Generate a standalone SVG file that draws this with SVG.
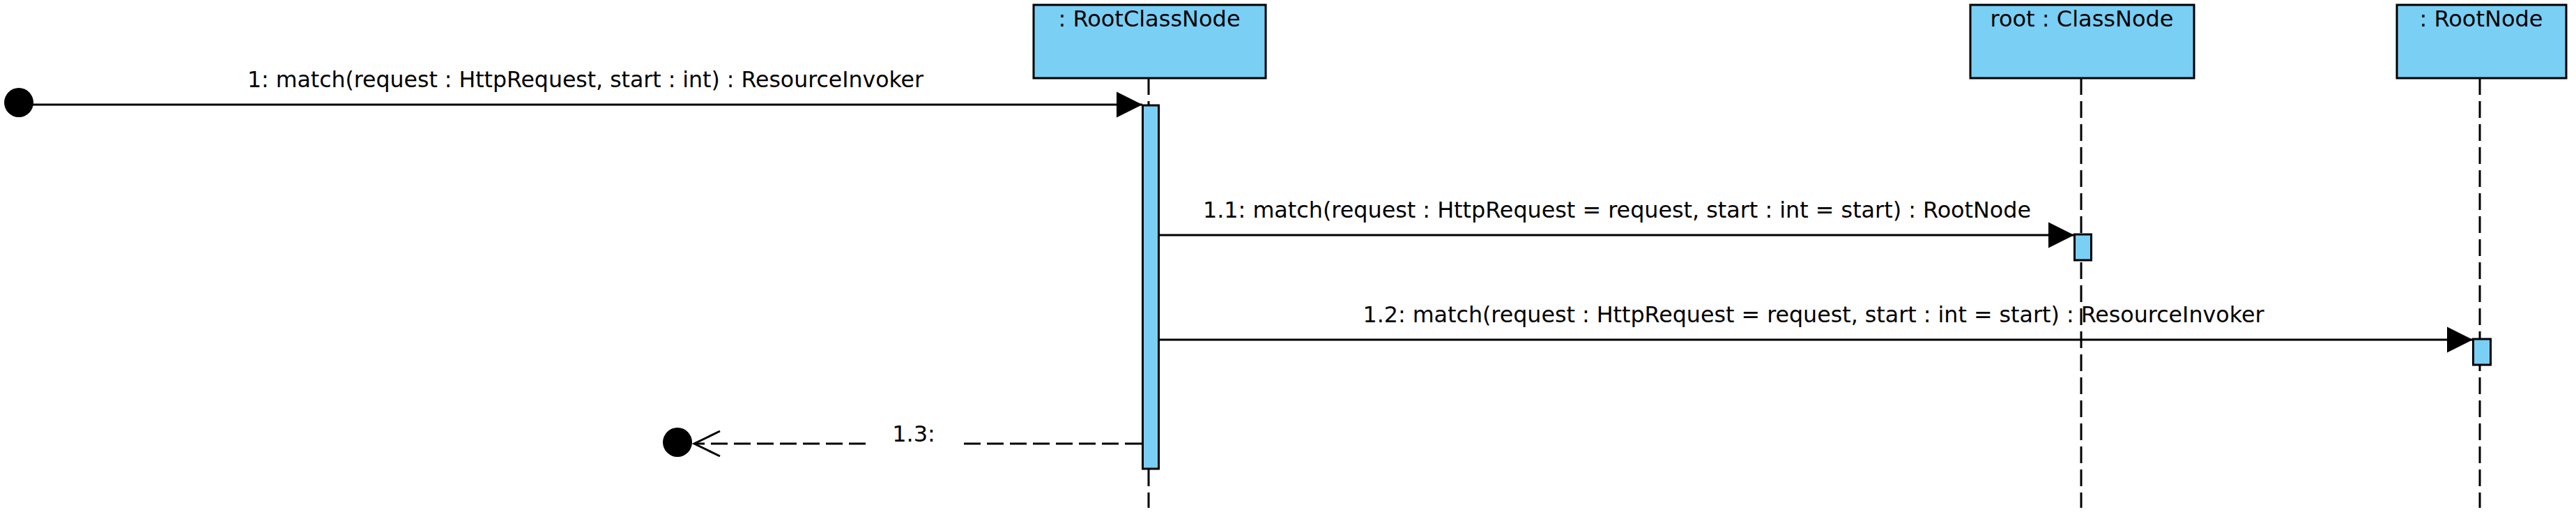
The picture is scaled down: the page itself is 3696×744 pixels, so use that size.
<svg xmlns="http://www.w3.org/2000/svg" width="3696" height="744" viewBox="0 0 3696 744">
<style>
  .box { fill: #7acff5; stroke: #000; stroke-width: 3; }
  .act { fill: #7acff5; stroke: #000; stroke-width: 3; }
  .life { stroke: #000; stroke-width: 3; stroke-dasharray: 24 9; fill: none; }
  .msg { stroke: #000; stroke-width: 3; fill: none; }
  .ret { stroke: #000; stroke-width: 3; fill: none; stroke-dasharray: 24 9; }
  .t { font-family: "DejaVu Sans", "Liberation Sans", sans-serif; font-size: 32px; fill: #000; text-anchor: middle; }
</style>
<defs>
  <marker id="filled" markerUnits="userSpaceOnUse" viewBox="0 0 37 37" refX="37" refY="18.5" markerWidth="37" markerHeight="37" orient="auto" overflow="visible">
    <path d="M0,0 L37,18.5 L0,37 Z" fill="#000"/>
  </marker>
  <marker id="open" markerUnits="userSpaceOnUse" viewBox="0 0 40 40" refX="38" refY="19" markerWidth="40" markerHeight="40" orient="auto" overflow="visible">
    <path d="M1,1 L38,19 L1,37" fill="none" stroke="#000" stroke-width="3"/>
  </marker>
</defs>
<rect width="3696" height="744" fill="#fff"/>

<g id="lifelines">
  <line class="life" x1="1648" y1="112" x2="1648" y2="728"/>
  <line class="life" x1="2986" y1="112" x2="2986" y2="728"/>
  <line class="life" x1="3558" y1="112" x2="3558" y2="728"/>
</g>

<g id="node-rootclassnode">
  <rect class="box" x="1483" y="7" width="333" height="105"/>
  <text class="t" x="1649" y="38">: RootClassNode</text>
  <rect class="act" x="1639.5" y="151" width="23" height="521"/>
</g>

<g id="node-classnode">
  <rect class="box" x="2827" y="7" width="321" height="105"/>
  <text class="t" x="2987" y="38">root : ClassNode</text>
  <rect class="act" x="2976.5" y="336" width="24" height="37"/>
</g>

<g id="node-rootnode">
  <rect class="box" x="3439" y="7" width="243" height="105"/>
  <text class="t" x="3560" y="38">: RootNode</text>
  <rect class="act" x="3548.5" y="486" width="25" height="37"/>
</g>

<g id="start-point">
  <circle cx="27" cy="147" r="21" fill="#000"/>
</g>
<g id="end-point">
  <circle cx="972" cy="634" r="21" fill="#000"/>
</g>

<g id="connectors">
  <line class="msg" x1="40" y1="150" x2="1639" y2="150" marker-end="url(#filled)"/>
  <text class="t" x="840" y="125" textLength="970" lengthAdjust="spacingAndGlyphs">1: match(request : HttpRequest, start : int) : ResourceInvoker</text>

  <line class="msg" x1="1662" y1="337" x2="2976" y2="337" marker-end="url(#filled)"/>
  <text class="t" x="2320" y="312" textLength="1188" lengthAdjust="spacingAndGlyphs">1.1: match(request : HttpRequest = request, start : int = start) : RootNode</text>

  <line class="msg" x1="1662" y1="487" x2="3548" y2="487" marker-end="url(#filled)"/>
  <text class="t" x="2602" y="462" textLength="1293" lengthAdjust="spacingAndGlyphs">1.2: match(request : HttpRequest = request, start : int = start) : ResourceInvoker</text>

  <line class="ret" x1="1638" y1="636" x2="996" y2="636" marker-end="url(#open)"/>
  <rect x="1243" y="610" width="139" height="40" fill="#fff"/>
  <text class="t" x="1311" y="633">1.3:</text>
</g>
</svg>
